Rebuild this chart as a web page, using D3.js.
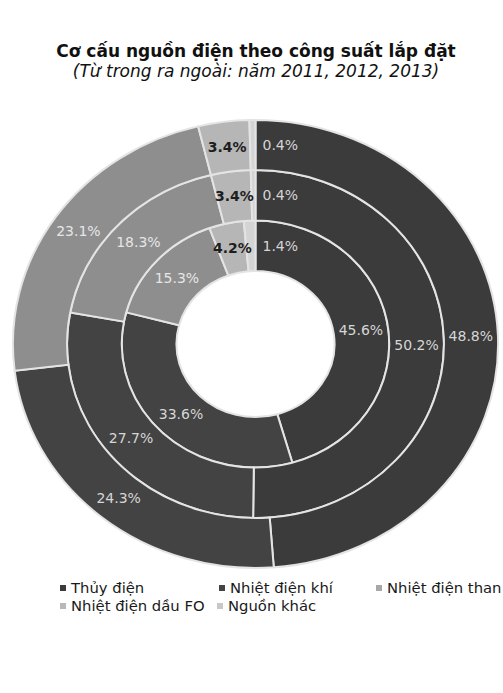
<!DOCTYPE html>
<html><head><meta charset="utf-8">
<script src="https://cdn.jsdelivr.net/npm/d3@7"></script>
<style>body{margin:0;background:#fff}svg{display:block}</style>
</head><body>
<svg id="c" width="503" height="693"></svg>
<script>
const categories = ["Thủy điện", "Nhiệt điện khí", "Nhiệt điện than", "Nhiệt điện dầu FO", "Nguồn khác"];
const years = ["2011", "2012", "2013"];
const values2011 = [45.6, 33.6, 15.3, 4.2, 1.4];
const values2012 = [50.2, 27.7, 18.3, 3.4, 0.4];
const values2013 = [48.8, 24.3, 23.1, 3.4, 0.4];
const series = [values2011, values2012, values2013];
const colors = ["#3b3b3b", "#434343", "#8e8e8e", "#b6b6b6", "#d4d4d4"];
const labelColors = ["#d6d6d6", "#d6d6d6", "#e6e6e6", "#1e1e1e", "#d6d6d6"];

const svg = d3.select("#c");
const cx = 255.5, cy = 344, sx = 1.083;
const radii = [73, 123.5, 174, 224];
const FONT = "DejaVu Sans, Verdana, sans-serif";

svg.append("text").attr("x", 256).attr("y", 57).attr("text-anchor", "middle")
  .attr("font-family", FONT).attr("font-weight", "bold")
  .attr("font-size", 17).attr("fill", "#111").text("Cơ cấu nguồn điện theo công suất lắp đặt");
svg.append("text").attr("x", 256).attr("y", 77).attr("text-anchor", "middle")
  .attr("font-family", FONT).attr("font-style", "italic")
  .attr("font-size", 17).attr("fill", "#111").text("(Từ trong ra ngoài: năm 2011, 2012, 2013)");

const pie = d3.pie().sort(null).value(d => d);
const g = svg.append("g").attr("transform", `translate(${cx},${cy}) scale(${sx},1)`);
const lg = svg.append("g").attr("transform", `translate(${cx},${cy})`);

series.forEach((vals, i) => {
  const arc = d3.arc().innerRadius(radii[i]).outerRadius(radii[i + 1]);
  const arcs = pie(vals);
  g.selectAll(null).data(arcs).enter().append("path")
    .attr("d", arc)
    .attr("fill", (d, j) => colors[j])
    .attr("stroke", "#e4e4e4").attr("stroke-width", 2)
    .attr("vector-effect", "non-scaling-stroke");
  arcs.forEach((d, j) => {
    const c = arc.centroid(d);
    let x = c[0] * sx, anchor = "middle";
    if (d.value < 2) { x = 7; anchor = "start"; }
    lg.append("text").attr("x", x).attr("y", c[1]).attr("dy", "0.35em")
      .attr("text-anchor", anchor)
      .attr("font-family", FONT)
      .attr("font-size", 14)
      .attr("font-weight", j === 3 ? "bold" : "normal")
      .attr("fill", labelColors[j])
      .text(d.value.toFixed(1) + "%");
  });
});

const legendPos = [[63, 588], [222, 588], [379, 588], [63, 606], [220, 606]];
const legendMark = ["#3b3b3b", "#434343", "#a8a8a8", "#b8b8b8", "#c8c8c8"];
categories.forEach((c, i) => {
  const [x, y] = legendPos[i];
  svg.append("rect").attr("x", x - 3).attr("y", y - 3).attr("width", 6).attr("height", 6).attr("fill", legendMark[i]);
  svg.append("text").attr("x", x + 8).attr("y", y).attr("dy", "0.35em")
    .attr("font-family", FONT).attr("font-size", 14.8)
    .attr("fill", "#1a1a1a").text(c);
});
</script>
</body></html>
